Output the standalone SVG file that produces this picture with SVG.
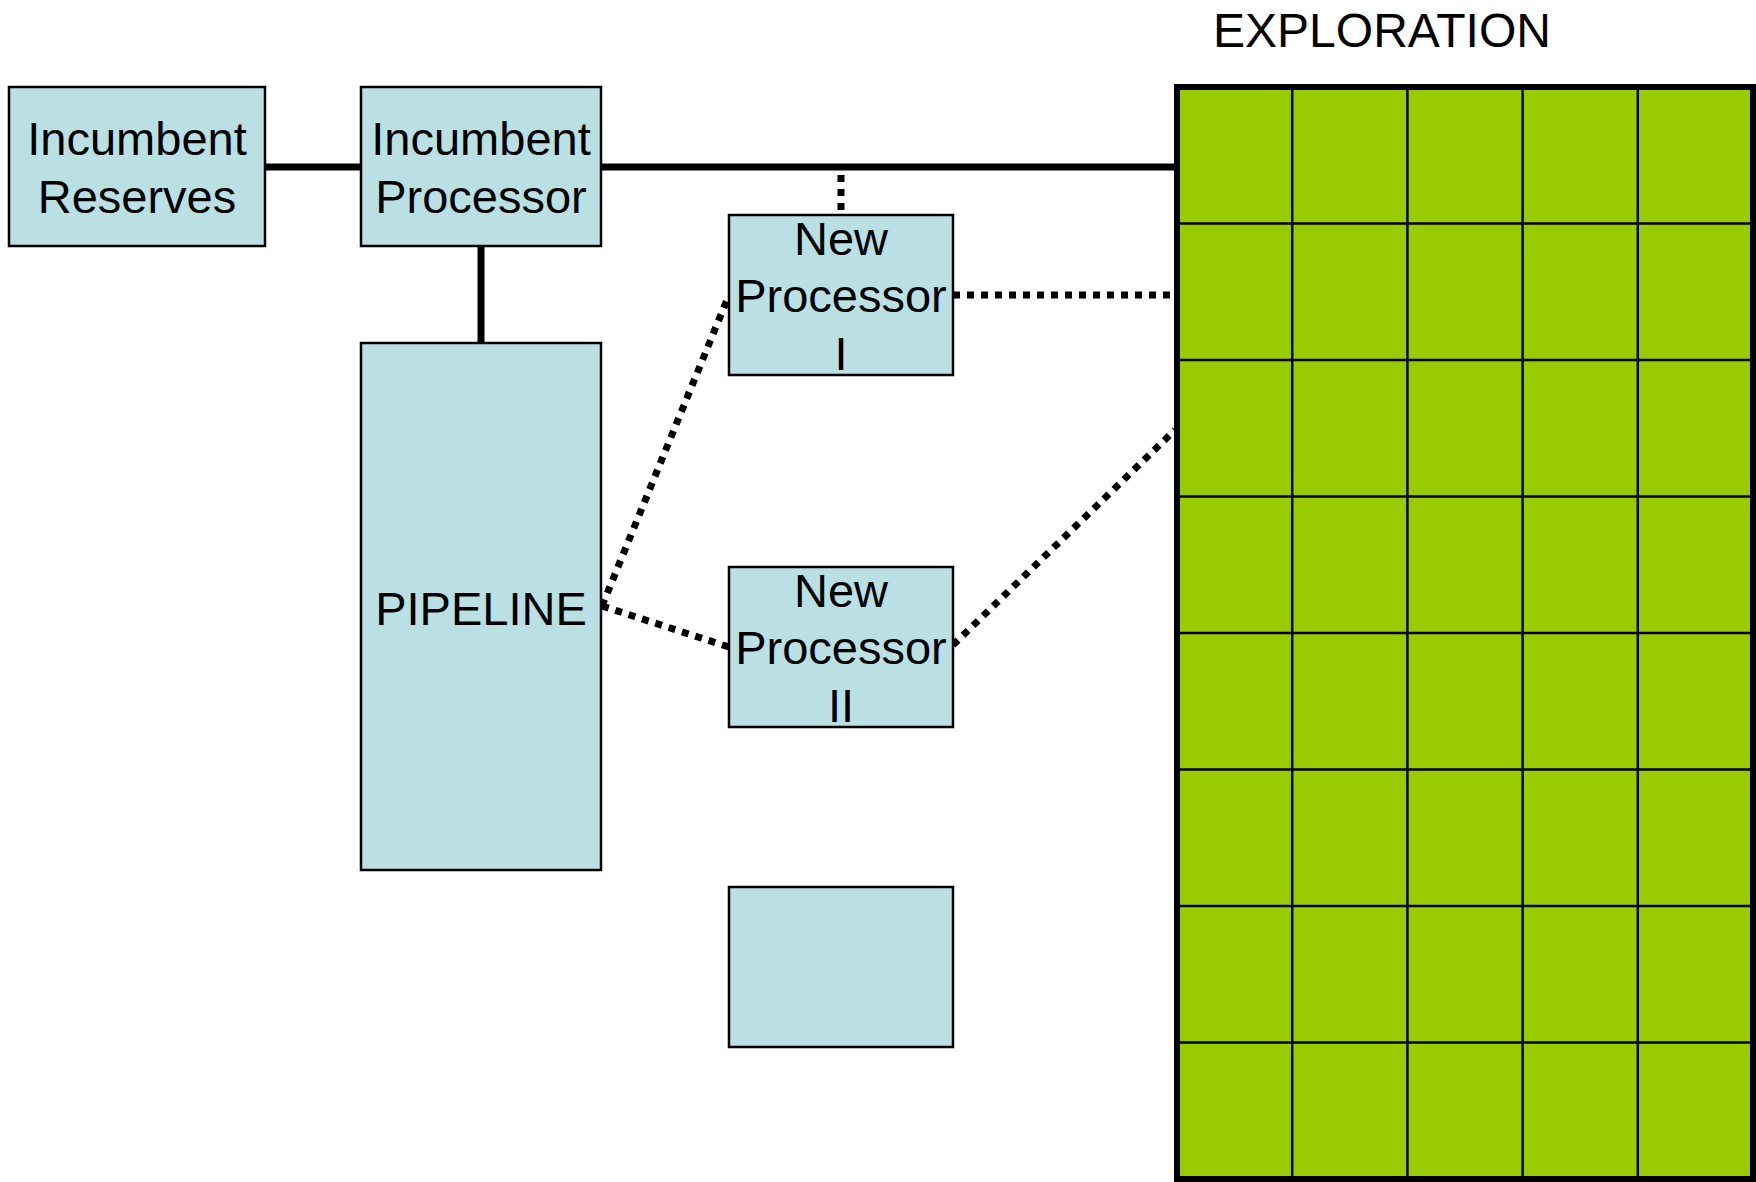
<svg xmlns="http://www.w3.org/2000/svg" width="1756" height="1182" viewBox="0 0 1756 1182">
<style>
.box{fill:#BBE0E3;stroke:#000;stroke-width:2.5}
.t{font-family:"Liberation Sans",Arial,sans-serif;font-size:47px;fill:#000;text-anchor:middle}
.solid{stroke:#000;stroke-width:7;fill:none}
.dot{stroke:#000;stroke-width:7;fill:none;stroke-dasharray:7 7}
.cell{fill:#99CC00}
.grid{stroke:#000;stroke-width:2.5;fill:none}
</style>
<rect width="1756" height="1182" fill="#fff"/>
<g id="connectors">
<line class="solid" x1="265" y1="167" x2="361" y2="167"/>
<line class="solid" x1="601" y1="167" x2="1177" y2="167"/>
<line class="solid" x1="481" y1="246" x2="481" y2="343"/>
<line class="dot" x1="841" y1="175" x2="841" y2="215"/>
<line class="dot" x1="953" y1="295" x2="1174" y2="295"/>
<line class="dot" x1="602" y1="606" x2="729" y2="295"/>
<line class="dot" x1="602" y1="606" x2="729" y2="647"/>
<line class="dot" x1="953" y1="645" x2="1175" y2="430"/>
</g>
<g id="incumbent-reserves">
<rect class="box" x="9" y="87" width="256" height="159"/>
<text class="t" x="137" y="155">Incumbent</text>
<text class="t" x="137" y="213">Reserves</text>
</g>
<g id="incumbent-processor">
<rect class="box" x="361" y="87" width="240" height="159"/>
<text class="t" x="481" y="155">Incumbent</text>
<text class="t" x="481" y="213">Processor</text>
</g>
<g id="pipeline">
<rect class="box" x="361" y="343" width="240" height="527"/>
<text class="t" x="481" y="625">PIPELINE</text>
</g>
<g id="new-processor-1">
<rect class="box" x="729" y="215" width="224" height="160"/>
<text class="t" x="841" y="255">New</text>
<text class="t" x="841" y="312">Processor</text>
<text class="t" x="841" y="370">I</text>
</g>
<g id="new-processor-2">
<rect class="box" x="729" y="567" width="224" height="160"/>
<text class="t" x="841" y="607">New</text>
<text class="t" x="841" y="664">Processor</text>
<text class="t" x="841" y="722">II</text>
</g>
<g id="blank-box">
<rect class="box" x="729" y="887" width="224" height="160"/>
</g>
<g id="exploration">
<text class="t" x="1382" y="47" style="font-size:48px">EXPLORATION</text>
<rect class="cell" x="1177" y="87" width="576" height="1092"/>
<path class="grid" d="M1292.2 87V1179M1407.4 87V1179M1522.6 87V1179M1637.8 87V1179M1177 223.5H1753M1177 360H1753M1177 496.5H1753M1177 633H1753M1177 769.5H1753M1177 906H1753M1177 1042.5H1753"/>
<rect x="1177" y="87" width="576" height="1092" fill="none" stroke="#000" stroke-width="6"/>
</g>
</svg>
